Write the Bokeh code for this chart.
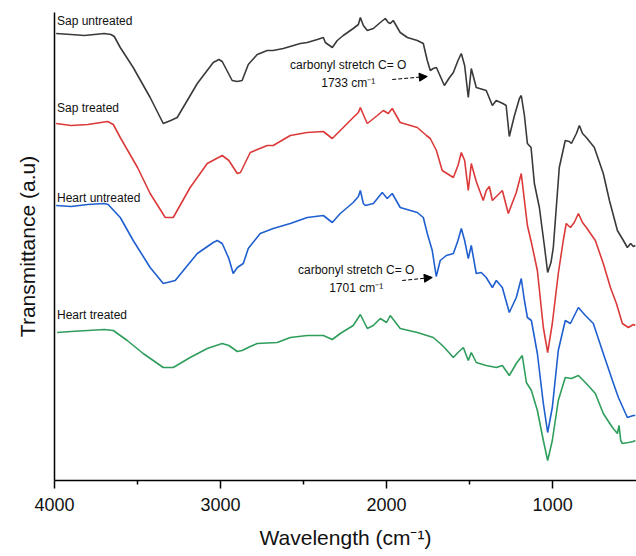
from bokeh.plotting import figure
from bokeh.models import Range1d, FixedTicker, Label, Arrow, NormalHead
from bokeh.embed import file_html
from bokeh.resources import INLINE

# ---------------- data ----------------
sap_untreated_wn = [3990, 3900, 3820, 3760, 3700, 3660, 3640, 3604, 3526, 3424,
                    3345, 3300, 3261, 3140, 3044, 3010, 2990, 2930, 2900, 2870,
                    2833, 2779, 2719, 2683, 2622, 2520, 2478, 2417, 2381, 2369,
                    2327, 2297, 2261, 2201, 2170, 2158, 2140, 2116, 2080, 2038,
                    2008, 1990, 1978, 1960, 1918, 1875, 1815, 1779, 1755, 1737,
                    1719, 1700, 1652, 1625, 1598, 1570, 1550, 1530, 1508, 1490,
                    1460, 1440, 1400, 1363, 1340, 1300, 1280, 1261, 1230, 1200,
                    1189, 1170, 1152, 1130, 1110, 1080, 1050, 1030, 1010, 996,
                    960, 924, 900, 887, 857, 839, 820, 797, 749, 695,
                    658, 610, 574, 550, 530, 514, 502]
sap_untreated_t = [447, 446, 445, 446, 447, 446, 444, 433, 413, 383,
                   357, 360, 363, 397, 418, 421, 419, 400, 399, 400,
                   416, 426, 430, 430, 432, 437, 438, 441, 443, 438,
                   433, 440, 445, 452, 456, 463, 455, 450, 452, 458,
                   462, 458, 457, 460, 448, 443, 440, 437, 420, 410,
                   412, 413, 395, 402, 408, 420, 427, 415, 383, 412,
                   393, 392, 390, 375, 380, 377, 375, 344, 365, 382,
                   385, 365, 337, 333, 297, 273, 235, 208, 218, 233,
                   313, 340, 339, 337, 347, 355, 347, 343, 333, 307,
                   280, 250, 240, 233, 237, 234, 235]

sap_treated_wn = [3990, 3900, 3800, 3720, 3680, 3646, 3604, 3500, 3424, 3333,
                  3285, 3183, 3080, 2990, 2950, 2899, 2880, 2821, 2719, 2683,
                  2580, 2478, 2381, 2327, 2279, 2201, 2170, 2158, 2130, 2116,
                  2056, 2020, 1990, 1966, 1918, 1815, 1760, 1737, 1700, 1665,
                  1598, 1570, 1550, 1530, 1508, 1490, 1460, 1418, 1400, 1381,
                  1363, 1303, 1267, 1219, 1189, 1170, 1152, 1128, 1092, 1056,
                  1030, 1002, 966, 936, 918, 893, 870, 845, 820, 797,
                  743, 695, 652, 616, 580, 544, 514, 502]
sap_treated_t = [357, 355, 356, 358, 359, 356, 343, 313, 287, 263,
                 263, 293, 317, 325, 320, 307, 308, 328, 335, 335,
                 345, 348, 349, 342, 350, 363, 368, 373, 362, 357,
                 365, 370, 367, 372, 358, 353, 345, 342, 330, 310,
                 303, 315, 328, 320, 290, 317, 299, 280, 290, 294,
                 280, 290, 267, 288, 307, 280, 255, 238, 210, 153,
                 128, 157, 207, 240, 257, 253, 258, 267, 258, 253,
                 240, 217, 193, 177, 157, 153, 156, 155]

heart_untreated_wn = [3990, 3900, 3800, 3700, 3677, 3604, 3526, 3424, 3345, 3273,
                      3140, 3044, 3020, 2990, 2950, 2924, 2899, 2863, 2833, 2761,
                      2683, 2580, 2478, 2381, 2327, 2279, 2201, 2170, 2158, 2140,
                      2128, 2080, 2026, 1996, 1966, 1918, 1815, 1779, 1755, 1725,
                      1701, 1677, 1640, 1598, 1570, 1550, 1530, 1508, 1490, 1460,
                      1430, 1400, 1363, 1339, 1303, 1261, 1219, 1189, 1170, 1152,
                      1128, 1092, 1056, 1030, 1002, 966, 924, 893, 845, 803,
                      755, 695, 640, 604, 550, 514, 502]
heart_untreated_t = [275, 274, 276, 277, 276, 263, 240, 213, 197, 200,
                     227, 238, 240, 237, 222, 207, 213, 217, 232, 247,
                     252, 257, 263, 265, 258, 267, 278, 284, 290, 277,
                     275, 277, 288, 282, 287, 273, 268, 263, 247, 230,
                     204, 220, 225, 227, 240, 252, 240, 222, 235, 207,
                     208, 203, 193, 200, 193, 168, 183, 202, 180, 163,
                     160, 127, 77, 48, 73, 130, 160, 157, 173, 165,
                     157, 127, 100, 83, 63, 65, 65]

heart_treated_wn = [3984, 3900, 3800, 3700, 3646, 3562, 3466, 3345, 3285, 3183,
                    3080, 2990, 2950, 2899, 2870, 2821, 2779, 2659, 2580, 2478,
                    2381, 2327, 2279, 2201, 2158, 2116, 2080, 2038, 2000, 1978,
                    1918, 1815, 1719, 1677, 1652, 1598, 1570, 1538, 1508, 1490,
                    1460, 1400, 1339, 1303, 1261, 1219, 1183, 1158, 1128, 1092,
                    1056, 1030, 1002, 966, 924, 887, 845, 797, 743, 695,
                    640, 610, 600, 590, 580, 544, 514, 502]
heart_treated_t = [148, 149, 150, 151, 150, 140, 127, 113, 113, 123,
                   132, 137, 135, 129, 130, 134, 137, 138, 143, 145,
                   145, 141, 147, 155, 166, 152, 155, 162, 158, 165,
                   152, 148, 143, 137, 133, 123, 128, 133, 120, 128,
                   118, 115, 113, 115, 105, 117, 125, 98, 90, 70,
                   40, 20, 40, 80, 103, 102, 105, 97, 87, 67,
                   53, 47, 55, 40, 37, 38, 39, 40]

series_names = ["Sap untreated", "Sap treated", "Heart untreated", "Heart treated"]
series_colors = ["#3a3a3a", "#dc3a3a", "#1f5fcf", "#2f9e5c"]
label_x = [3985, 3985, 3985, 3985]
label_y = [460, 373, 283, 166]

x_major_ticks = [4000, 3000, 2000, 1000]
x_minor_ticks = [3500, 2500, 1500]

annot_text1 = ["carbonyl stretch C= O", "1733 cm\u207b\u00b9"]
annot_text2 = ["carbonyl stretch C= O", "1701 cm\u207b\u00b9"]
annot_x = [2231, 2183]
annot_y1 = [416, 398]
annot_y2 = [211, 193]
arrow1 = (1966, 401, 1755, 404)
arrow2 = (1906, 200, 1725, 203)

FONT = "Liberation Sans"

# ---------------- figure ----------------
p = figure(width=636, height=556, output_backend="svg", toolbar_location=None,
           x_range=Range1d(4000, 495), y_range=Range1d(0, 468),
           min_border_left=54, min_border_right=0, min_border_top=12,
           min_border_bottom=76)
p.outline_line_color = None
p.grid.visible = False
p.background_fill_color = "white"
p.border_fill_color = "white"

xs = [sap_untreated_wn, sap_treated_wn, heart_untreated_wn, heart_treated_wn]
ys = [sap_untreated_t, sap_treated_t, heart_untreated_t, heart_treated_t]
for x, y, c in zip(xs, ys, series_colors):
    p.line(x, y, line_color=c, line_width=1.6)

for name, lx, ly in zip(series_names, label_x, label_y):
    p.add_layout(Label(x=lx, y=ly, text=name, text_font=FONT,
                       text_font_size="12px", text_color="#111111",
                       text_baseline="middle", text_align="left"))

for txt, yy in zip(annot_text1, annot_y1):
    p.add_layout(Label(x=annot_x[0], y=yy, text=txt, text_font=FONT,
                       text_font_size="12px", text_color="#111111",
                       text_baseline="middle", text_align="center"))
for txt, yy in zip(annot_text2, annot_y2):
    p.add_layout(Label(x=annot_x[1], y=yy, text=txt, text_font=FONT,
                       text_font_size="12px", text_color="#111111",
                       text_baseline="middle", text_align="center"))

for a in (arrow1, arrow2):
    p.add_layout(Arrow(end=NormalHead(size=8, fill_color="black", line_color="black"),
                       x_start=a[0], y_start=a[1], x_end=a[2], y_end=a[3],
                       line_color="black", line_width=1, line_dash="4 2"))

xa = p.xaxis[0]
xa.ticker = FixedTicker(ticks=x_major_ticks, minor_ticks=x_minor_ticks)
xa.axis_line_width = 1.5
xa.axis_line_color = "black"
xa.major_tick_line_width = 1.5
xa.minor_tick_line_width = 1.5
xa.major_tick_out = 8
xa.major_tick_in = 0
xa.minor_tick_out = 4
xa.minor_tick_in = 0
xa.major_label_standoff = 9
xa.major_label_text_font = FONT
xa.major_label_text_font_size = "18px"
xa.major_label_text_color = "#111111"
xa.axis_label = "Wavelength (cm\u207b\u00b9)"
xa.axis_label_text_font = FONT
xa.axis_label_text_font_size = "21px"
xa.axis_label_text_font_style = "normal"
xa.axis_label_text_color = "#111111"
xa.axis_label_standoff = 12

ya = p.yaxis[0]
ya.ticker = FixedTicker(ticks=[])
ya.axis_line_width = 1.5
ya.axis_line_color = "black"
ya.major_tick_out = 0
ya.major_tick_in = 0
ya.minor_tick_out = 0
ya.minor_tick_in = 0
ya.major_label_text_font_size = "0px"
ya.axis_label = "Transmittance (a.u)"
ya.axis_label_text_font = FONT
ya.axis_label_text_font_size = "21px"
ya.axis_label_text_font_style = "normal"
ya.axis_label_text_color = "#111111"
ya.axis_label_standoff = 16

open("out.html", "w").write(file_html(p, INLINE))
